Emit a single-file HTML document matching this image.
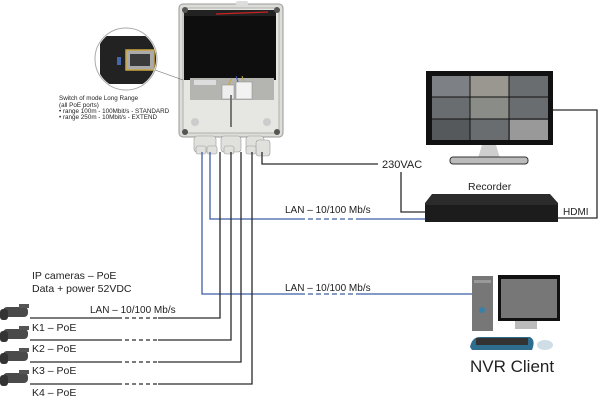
<!DOCTYPE html>
<html><head><meta charset="utf-8"><style>
html,body{margin:0;padding:0;background:#fff;}
svg{display:block;font-family:"Liberation Sans","DejaVu Sans",sans-serif;}
</style></head><body>
<svg width="600" height="401" viewBox="0 0 600 401" xmlns="http://www.w3.org/2000/svg">
<rect width="600" height="401" fill="#fff"/>
<!-- enclosure -->
<rect x="179" y="4" width="104" height="133" rx="4" fill="#dcdcd8" stroke="#9a9a96"/>
<rect x="183" y="8" width="96" height="125" rx="3" fill="#e6e6e2" stroke="#b0b0ac"/>
<rect x="184" y="10" width="92" height="70" fill="#0e0e0e"/>
<rect x="184" y="10" width="92" height="6" fill="#222"/>
<path d="M216 14 L268 12" stroke="#c22" stroke-width="1.2"/>
<rect x="190" y="78" width="84" height="22" fill="#b4b4b0"/>
<rect x="194" y="80" width="22" height="5" fill="#ddd"/>
<rect x="222" y="85" width="12" height="14" fill="#eee" stroke="#888" stroke-width="0.5"/>
<rect x="236" y="82" width="16" height="17" fill="#f2f2f2" stroke="#888" stroke-width="0.5"/>
<path d="M228 85 L232 78 M244 82 L242 76" stroke="#c9a440" stroke-width="1"/>
<path d="M238 82 L236 76" stroke="#3b5cb0" stroke-width="1"/>
<rect x="230" y="95" width="2" height="32" fill="#777"/>
<circle cx="185" cy="10" r="3" fill="#555"/><circle cx="277" cy="10" r="3" fill="#555"/>
<circle cx="185" cy="132" r="3" fill="#555"/><circle cx="277" cy="132" r="3" fill="#555"/>
<circle cx="195" cy="122" r="4" fill="#ccc"/><circle cx="267" cy="122" r="4" fill="#ccc"/>
<rect x="236" y="1" width="12" height="5" rx="2" fill="#ddd"/>
<!-- glands -->
<g fill="#e0e0dc" stroke="#999" stroke-width="0.6">
<rect x="194" y="136" width="22" height="16" rx="3"/>
<rect x="221" y="136" width="20" height="16" rx="3"/>
<rect x="246" y="136" width="18" height="16" rx="3"/>
<rect x="256" y="140" width="14" height="16" rx="3"/>
<rect x="196" y="146" width="10" height="8" rx="2"/><rect x="207" y="146" width="10" height="8" rx="2"/>
<rect x="224" y="146" width="10" height="8" rx="2"/><rect x="246" y="146" width="10" height="8" rx="2"/>
</g>
<!-- inset circle -->
<line x1="155" y1="70" x2="183" y2="80" stroke="#666" stroke-width="0.6"/>
<circle cx="126" cy="59" r="31" fill="#fff" stroke="#aaa"/>
<clipPath id="c"><circle cx="126" cy="59" r="30"/></clipPath>
<g clip-path="url(#c)">
<rect x="100" y="36" width="60" height="48" fill="#222"/>
<rect x="126" y="50" width="28" height="20" fill="#aaa" stroke="#c9a440" stroke-width="1.5"/>
<rect x="130" y="54" width="20" height="12" fill="#3a3a3a"/>
<rect x="117" y="57" width="4" height="8" fill="#4466aa"/>
</g>
<text x="59" y="100" font-size="6.3" fill="#222">Switch of mode Long Range</text>
<text x="59" y="107" font-size="6.3" fill="#222">(all PoE ports)</text>
<text x="59" y="113" font-size="6.3" fill="#222">• range 100m - 100Mbit/s - STANDARD</text>
<text x="59" y="119" font-size="6.3" fill="#222">• range 250m - 10Mbit/s - EXTEND</text>
<!-- blue cables -->
<g fill="none" stroke="#3f5ea8" stroke-width="1.3">
<path d="M202 152 V294 H300"/><path d="M356 294 H472"/>
<path d="M210 152 V219 H300"/><path d="M356 219 H425"/>
<path d="M300 294 H356 M300 219 H356" stroke-dasharray="5,3"/>
</g>
<!-- camera cables -->
<g fill="none" stroke="#2a2a2a" stroke-width="1.3">
<path d="M220 152 V318 H158 M118 318 H30"/>
<path d="M231 152 V340 H158 M118 340 H30"/>
<path d="M241 152 V362 H158 M118 362 H30"/>
<path d="M252 152 V384 H158 M118 384 H30"/>
<path d="M118 318 H158 M118 340 H158 M118 362 H158 M118 384 H158" stroke-dasharray="4,3"/>
<path d="M262 152 V164 H378"/>
<path d="M401 172 V212 H425"/>
<path d="M553 110 H597 V218 H558"/>
</g>
<text x="382" y="168" font-size="11" fill="#222">230VAC</text>
<text x="285" y="213" font-size="10" fill="#222">LAN – 10/100 Mb/s</text>
<text x="285" y="291" font-size="10" fill="#222">LAN – 10/100 Mb/s</text>
<text x="90" y="313" font-size="10" fill="#222">LAN – 10/100 Mb/s</text>
<text x="468" y="190" font-size="10.5" fill="#222">Recorder</text>
<text x="563" y="215" font-size="10" fill="#222">HDMI</text>
<!-- monitor -->
<rect x="426" y="71" width="127" height="74" fill="#111"/>
<rect x="432" y="76" width="116" height="64" fill="#6a6d70"/>
<rect x="432" y="76" width="38" height="21" fill="#7d8185"/>
<rect x="470" y="76" width="39" height="21" fill="#9a9690"/>
<rect x="470" y="97" width="39" height="22" fill="#8a8c88"/>
<rect x="432" y="119" width="38" height="21" fill="#55595c"/>
<g stroke="#111" stroke-width="1"><path d="M470 76V140 M509 76V140 M432 97H548 M432 119H548"/></g>
<rect x="510" y="120" width="38" height="20" fill="#999"/>
<path d="M482 145 L478 158 H500 L496 145 Z" fill="#cfcfcf"/>
<rect x="450" y="157" width="78" height="7" rx="3" fill="#bbb" stroke="#333" stroke-width="1"/>
<!-- recorder -->
<path d="M432 194 H550 L558 203 V222 H425 V203 Z" fill="#2b2b2b"/>
<rect x="425" y="205" width="133" height="17" fill="#1c1c1c"/>
<!-- NVR client -->
<rect x="472" y="276" width="21" height="55" fill="#777"/>
<rect x="474" y="280" width="17" height="3" fill="#999"/>
<circle cx="482" cy="310" r="3" fill="#3a7fa8"/>
<rect x="498" y="275" width="62" height="46" fill="#111"/>
<rect x="501" y="279" width="56" height="39" fill="#777"/>
<rect x="515" y="321" width="22" height="8" fill="#bbb"/>
<path d="M470 347 Q472 337 480 337 H530 Q536 340 532 350 H472 Z" fill="#2e6d8e"/>
<rect x="476" y="338" width="52" height="7" fill="#333"/>
<ellipse cx="545" cy="345" rx="8" ry="5" fill="#cfdde6"/>
<text x="470" y="372" font-size="17" fill="#222">NVR Client</text>
<!-- cameras text -->
<text x="32" y="279" font-size="10.5" fill="#222">IP cameras – PoE</text>
<text x="32" y="292" font-size="10.5" fill="#222">Data + power 52VDC</text>
<text x="32" y="331" font-size="10.5" fill="#222">K1 – PoE</text>
<text x="32" y="352" font-size="10.5" fill="#222">K2 – PoE</text>
<text x="32" y="374" font-size="10.5" fill="#222">K3 – PoE</text>
<text x="32" y="396" font-size="10.5" fill="#222">K4 – PoE</text>
<!-- cameras -->
<g fill="#4a4a4a">
<g transform="translate(0,304)"><rect x="3" y="3" width="25" height="10" rx="4"/><rect x="0" y="5" width="8" height="11" rx="3" fill="#333"/><rect x="19" y="0" width="10" height="4" fill="#555"/></g>
<g transform="translate(0,326)"><rect x="3" y="3" width="25" height="10" rx="4"/><rect x="0" y="5" width="8" height="11" rx="3" fill="#333"/><rect x="19" y="0" width="10" height="4" fill="#555"/></g>
<g transform="translate(0,348)"><rect x="3" y="3" width="25" height="10" rx="4"/><rect x="0" y="5" width="8" height="11" rx="3" fill="#333"/><rect x="19" y="0" width="10" height="4" fill="#555"/></g>
<g transform="translate(0,370)"><rect x="3" y="3" width="25" height="10" rx="4"/><rect x="0" y="5" width="8" height="11" rx="3" fill="#333"/><rect x="19" y="0" width="10" height="4" fill="#555"/></g>
</g>
</svg>
</body></html>
